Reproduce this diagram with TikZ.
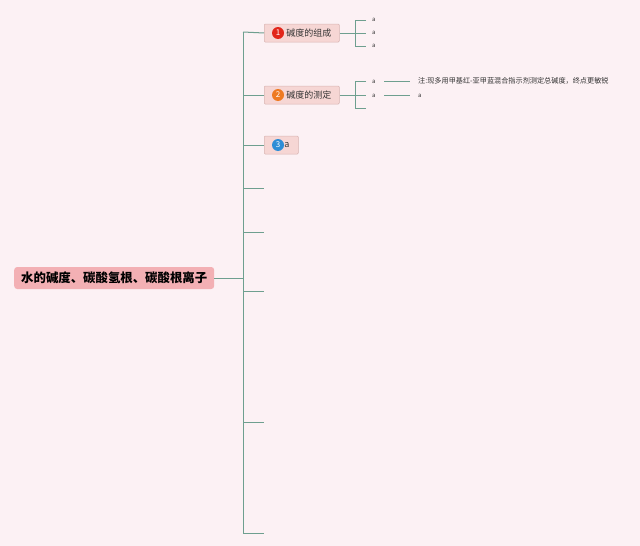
\documentclass[tikz,border=0pt]{standalone}
\usepackage{fontspec}
\setmainfont{Noto Sans CJK SC}
\newfontfamily\cjk{Noto Sans CJK SC}
\definecolor{bg}{HTML}{FCF1F4}
\definecolor{ln}{HTML}{6E9F8F}
\definecolor{rootfill}{HTML}{F3B0B4}
\definecolor{subfill}{HTML}{F6D6D4}
\definecolor{subdraw}{HTML}{D8B4B2}
\definecolor{cred}{HTML}{E2261B}
\definecolor{corange}{HTML}{EE7A22}
\definecolor{cblue}{HTML}{2E8DD6}
\definecolor{txt}{HTML}{333333}
\begin{document}
\begin{tikzpicture}[x=1pt,y=-1pt,
  conn/.style={draw=ln,line width=1pt},
  rootbox/.style={fill=rootfill,rounded corners=3pt,minimum height=22pt,inner xsep=7pt,font=\cjk\fontsize{12.4}{13}\selectfont\bfseries,text=black},
  subbox/.style={fill=subfill,draw=subdraw,line width=0.5pt,rounded corners=1pt,minimum height=18pt,inner xsep=3pt,font=\cjk\fontsize{9}{10}\selectfont,text=txt},
  badge/.style={circle,fill=#1,text=white,inner sep=0pt,minimum size=12pt,font=\fontsize{8}{8}\selectfont},
  leaf/.style={font=\fontsize{6}{7}\selectfont,text=txt,inner sep=0pt,anchor=west},
  note/.style={font=\cjk\fontsize{7.15}{8}\selectfont,text=txt,inner sep=0pt,anchor=west}]
\fill[bg] (0,0) rectangle (640,546);
\useasboundingbox (0,0) rectangle (640,546);

% root
\node[rootbox,anchor=west,minimum width=199pt] (root) at (14,278) {水的碱度、碳酸氢根、碳酸根离子};
\coordinate (trunk) at (243,278);
\coordinate (ttop) at (243,32);
\coordinate (tbot) at (243,533);
\draw[conn] (root.east) -- (trunk);
\draw[conn] (ttop) -- (tbot);

% level 1 nodes
\node[subbox,anchor=west] (n1) at (264,33) {\kern19pt 碱度的组成\kern5pt\relax};
\node[badge=cred] (b1) at ([xshift=14pt]n1.west) {1};
\node[subbox,anchor=west] (n2) at (264,95) {\kern19pt 碱度的测定\kern5pt\relax};
\node[badge=corange] (b2) at ([xshift=14pt]n2.west) {2};
\node[subbox,anchor=west] (n3) at (264,145) {\kern17pt a\kern6pt\relax};
\node[badge=cblue] (b3) at ([xshift=14pt]n3.west) {3};

\draw[conn] (ttop) -- (n1.west);
\draw[conn] (243,95) -- (n2.west);
\draw[conn] (243,145) -- (n3.west);

% empty branches
\foreach \yy/\nm in {188/e1,232/e2,291/e3,422/e4,533/e5}{
  \coordinate (\nm) at (264,\yy);
  \draw[conn] (243,\yy) -- (\nm);
}

% node 1 children
\coordinate (j1) at (355,33);
\draw[conn] (n1.east) -- (j1);
\draw[conn] (366,20) -- (355,20) -- (355,46) -- (366,46);
\draw[conn] (j1) -- (366,33);
\node[leaf] (a11) at (372,20) {a};
\node[leaf] (a12) at (372,33) {a};
\node[leaf] (a13) at (372,46) {a};

% node 2 children
\coordinate (j2) at (355,95);
\draw[conn] (n2.east) -- (j2);
\draw[conn] (366,81) -- (355,81) -- (355,108) -- (366,108);
\draw[conn] (j2) -- (366,95);
\node[leaf] (a21) at (372,82) {a};
\node[leaf] (a22) at (372,96) {a};
\node[note] (t1) at (418,81) {注:现多用甲基红-亚甲蓝混合指示剂测定总碱度，终点更敏锐};
\node[leaf] (t2) at (418,96) {a};
\draw[conn] (384,81) -- (410,81);
\draw[conn] (384,95) -- (410,95);
\end{tikzpicture}
\end{document}
